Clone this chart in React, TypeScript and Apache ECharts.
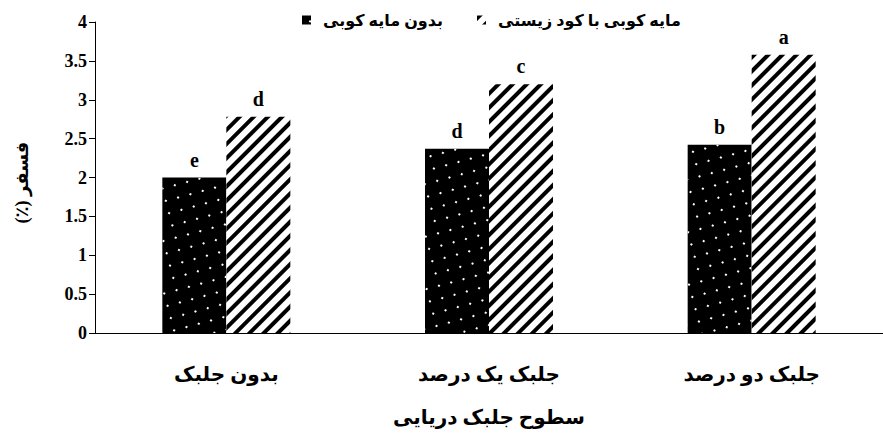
import React, { useEffect, useRef } from "react";
import * as echarts from "echarts";

const categories = ["بدون جلبک", "جلبک یک درصد", "جلبک دو درصد"];
const seriesNames = ["بدون مایه کوبی", "مایه کوبی با کود زیستی"];
const noInoculation = [2.0, 2.37, 2.42];
const bioFertilizer = [2.78, 3.2, 3.58];
const noInocLetters = ["e", "d", "b"];
const bioLetters = ["d", "c", "a"];

const FONT = "Liberation Serif, DejaVu Sans, serif";

export default function App() {
  const ref = useRef<HTMLDivElement>(null);
  useEffect(() => {
    document.body.style.margin = "0";
    if (!ref.current) return;
    const chart = echarts.init(ref.current, null, { renderer: "svg" });
    const labelStyle = (letters: string[]) => ({
      show: true,
      position: "top",
      distance: 8,
      color: "#000",
      fontFamily: FONT,
      fontWeight: "bold",
      fontSize: 20,
      formatter: (p: any) => letters[p.dataIndex],
    });
    chart.setOption({
      animation: false,
      aria: { enabled: true, decal: { show: true } },
      legend: {
        left: 297,
        top: 7,
        icon: "rect",
        itemWidth: 9,
        itemHeight: 9,
        itemGap: 34,
        textStyle: {
          fontFamily: FONT,
          fontWeight: "bold",
          fontSize: 16,
          color: "#000",
          padding: [0, 0, 0, 7],
        },
        data: seriesNames,
      },
      grid: { left: 95, top: 22, width: 801, height: 311, containLabel: false },
      xAxis: {
        type: "category",
        data: categories,
        name: "سطوح جلبک دریایی",
        nameLocation: "middle",
        nameGap: 74,
        nameTextStyle: { fontFamily: FONT, fontWeight: "bold", fontSize: 20, color: "#000" },
        axisLine: { lineStyle: { color: "#000", width: 1 } },
        axisTick: { show: false },
        axisLabel: {
          margin: 31,
          color: "#000",
          fontFamily: FONT,
          fontWeight: "bold",
          fontSize: 20,
        },
      },
      yAxis: {
        type: "value",
        min: 0,
        max: 4,
        interval: 0.5,
        name: "(٪) فسفر",
        nameLocation: "middle",
        nameGap: 64,
        nameRotate: 90,
        nameTextStyle: {
          fontFamily: FONT,
          fontWeight: "bold",
          fontSize: 18,
          color: "#000",
          padding: [0, 10, 0, 0],
        },
        axisLine: { show: true, lineStyle: { color: "#000", width: 1 } },
        axisTick: { show: true, length: 6, lineStyle: { color: "#000" } },
        splitLine: { show: false },
        axisLabel: {
          margin: 8,
          color: "#000",
          fontFamily: FONT,
          fontWeight: "bold",
          fontSize: 18,
        },
      },
      series: [
        {
          name: seriesNames[0],
          type: "bar",
          data: noInoculation,
          barWidth: 64,
          barGap: "0%",
          itemStyle: {
            color: "#000",
            decal: {
              symbol: "rect",
              symbolSize: 1,
              color: "#fff",
              dashArrayX: [
                [1.5, 15.5],
                [0, 8.5, 1.5, 7],
              ],
              dashArrayY: [1.5, 7],
            },
          },
          label: labelStyle(noInocLetters),
        },
        {
          name: seriesNames[1],
          type: "bar",
          data: bioFertilizer,
          barWidth: 64,
          barGap: "0%",
          itemStyle: {
            color: "#fff",
            decal: {
              symbol: "rect",
              symbolSize: 1,
              color: "#000",
              dashArrayX: [1, 0],
              dashArrayY: [4, 6],
              rotation: -Math.PI / 4,
            },
          },
          label: labelStyle(bioLetters),
        },
      ],
    });
    return () => chart.dispose();
  }, []);
  return <div ref={ref} style={{ width: 883, height: 434 }} />;
}
